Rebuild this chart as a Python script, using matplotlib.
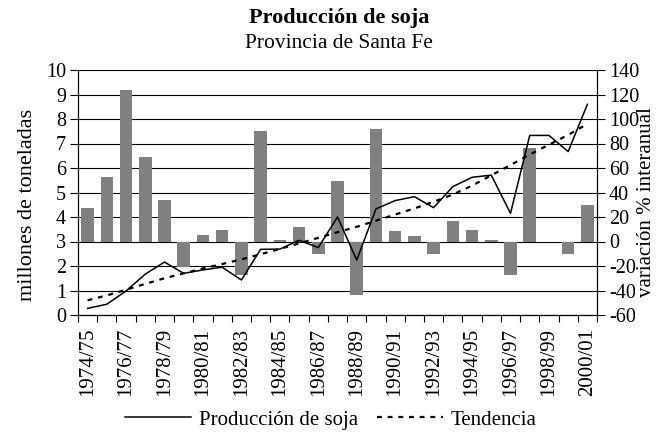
import matplotlib

matplotlib.use("Agg")
import matplotlib.pyplot as plt
import numpy as np

seasons = [
    "1974/75", "1975/76", "1976/77", "1977/78", "1978/79", "1979/80", "1980/81",
    "1981/82", "1982/83", "1983/84", "1984/85", "1985/86", "1986/87", "1987/88",
    "1988/89", "1989/90", "1990/91", "1991/92", "1992/93", "1993/94", "1994/95",
    "1995/96", "1996/97", "1997/98", "1998/99", "1999/00", "2000/01",
]
# millones de toneladas
production = [0.27, 0.44, 0.98, 1.67, 2.16, 1.70, 1.84, 1.95, 1.43, 2.68, 2.69,
              3.05, 2.75, 4.00, 2.24, 4.33, 4.67, 4.83, 4.38, 5.24, 5.62, 5.71,
              4.15, 7.33, 7.33, 6.67, 8.60]
trend = [0.60, 0.80, 1.03, 1.27, 1.50, 1.70, 1.90, 2.08, 2.27, 2.48, 2.70, 2.92,
         3.15, 3.38, 3.60, 3.85, 4.10, 4.35, 4.62, 4.92, 5.28, 5.70, 6.12, 6.55,
         6.95, 7.35, 7.80]
# variación % interanual
variation = [27, 53, 124, 69, 34, -21, 5, 9, -27, 90, 1.5, 12, -10, 49, -44, 92,
             8.5, 4.5, -10, 17, 9, 1.5, -27, 76, 0, -10, 30]

plt.rcParams["font.family"] = ["Liberation Serif", "DejaVu Serif"]
plt.rcParams["axes.unicode_minus"] = False

fig = plt.figure(figsize=(6.68, 4.32), dpi=100)
ax2 = fig.add_axes([78 / 668, 1 - 315 / 432, 519 / 668, 245 / 432])
ax = ax2.twinx()
# line axis on top of the bar axis
ax.set_zorder(ax2.get_zorder() + 1)
ax.patch.set_visible(False)

x = np.arange(len(seasons))

# bars, right axis
ax2.bar(x, variation, width=0.65, color="#808080", zorder=2)
ax2.set_ylim(-60, 140)
ax2.set_yticks(range(-60, 141, 20))
ax2.yaxis.tick_right()
ax2.grid(True, axis="y", color="black", linewidth=0.8)
ax2.set_axisbelow(True)

# lines, left axis
ax.plot(x, production, color="black", linewidth=1.1, label="Producción de soja")
ax.plot(x, trend, color="black", linewidth=1.6, linestyle=(0, (2.2, 2.6)), label="Tendencia")
ax.set_ylim(0, 10)
ax.set_yticks(range(0, 11))
ax.yaxis.tick_left()

for a in (ax, ax2):
    a.set_xlim(-0.5, len(seasons) - 0.5)
    a.spines["top"].set_visible(False)
    a.tick_params(axis="y", labelsize=14.5, length=5.5, width=0.8, pad=3)

ax.set_ylabel("millones de toneladas", fontsize=16)
ax.yaxis.set_label_coords(-0.116, 0.45)
ax2.set_ylabel("variación % interanual", fontsize=15)
ax2.yaxis.set_label_coords(1.113, 0.46)

# tick marks at category boundaries, labels on every other category
ax2.set_xticks(np.arange(len(seasons) + 1) - 0.5)
ax2.set_xticklabels([])
ax2.tick_params(axis="x", which="major", length=5, width=0.8)
ax2.set_xticks(x[::2], minor=True)
ax2.set_xticklabels(seasons[::2], minor=True, rotation=90, fontsize=15)
ax2.tick_params(axis="x", which="minor", length=0, pad=9)

fig.text(0.508, 1 - 18 / 432, "Producción de soja", ha="center", va="center",
         fontsize=16, fontweight="bold")
fig.text(0.508, 1 - 44 / 432, "Provincia de Santa Fe", ha="center", va="center",
         fontsize=15.5)

fig.legend(loc="center", bbox_to_anchor=(0.495, 1 - 420 / 432), ncol=2,
           frameon=False, fontsize=15, handlelength=3.2, handletextpad=0.35,
           columnspacing=0.9)

fig.savefig("out.png", dpi=100)
